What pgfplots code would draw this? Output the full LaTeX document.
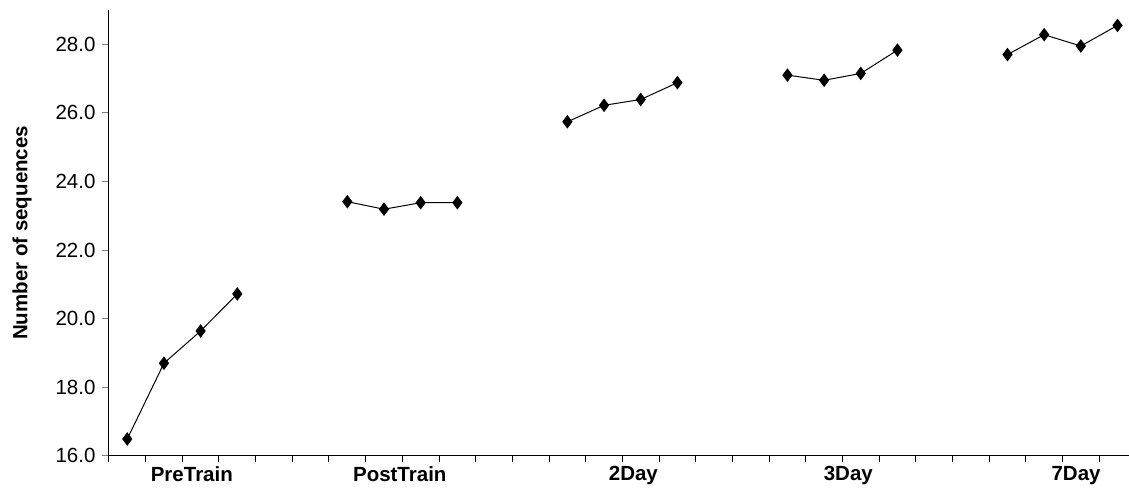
\documentclass[border=0pt]{standalone}
\usepackage{fontspec}
\setmainfont{Liberation Sans}
\usepackage{pgfplots}
\pgfplotsset{compat=1.18}
\pgfplotsset{ser/.style={black, line width=1pt, mark=diamond*, mark size=6pt, mark options={solid, fill=black}}}
\begin{document}
\begin{tikzpicture}
\begin{axis}[
  name=ax,
  scale only axis,
  width=1020pt, height=446pt,
  xmin=-0.5, xmax=27.3,
  ymin=16, ymax=29,
  axis lines=left,
  axis line style={-, line width=1pt},
  clip=false,
  ytick={16,18,...,28},
  yticklabel style={font=\fontsize{20.5}{24}\selectfont, xshift=-3pt},
  /pgf/number format/.cd, fixed, fixed zerofill, precision=1, assume math mode=true,
  /pgfplots/.cd,
  xtick={1.76,7.43,13.8,19.66,25.87},
  xticklabels={PreTrain,PostTrain,2Day,3Day,7Day},
  xticklabel style={font=\bfseries\fontsize{20.5}{24}\selectfont},
  minor xtick={-0.5,0.5,...,26.5},
  xtick style={draw=none},
  minor x tick style={draw=black, line width=1pt},
  ytick style={line width=1pt},
  tick align=outside,
  major tick length=7pt,
  minor tick length=6pt,
  every axis y label/.style={at={(axis description cs:-0.0853,0.5)}, rotate=90, anchor=center},
  ylabel={\bfseries\fontsize{20.5}{24}\selectfont Number of sequences},
]
\addplot[ser] coordinates {(0,16.49) (1,18.70) (2,19.64) (3,20.72)};
\addplot[ser] coordinates {(6,23.41) (7,23.19) (8,23.38) (9,23.38)};
\addplot[ser] coordinates {(12,25.74) (13,26.22) (14,26.39) (15,26.88)};
\addplot[ser] coordinates {(18,27.10) (19,26.95) (20,27.15) (21,27.83)};
\addplot[ser] coordinates {(24,27.70) (25,28.28) (26,27.95) (27,28.55)};
\end{axis}
\useasboundingbox ([xshift=-109pt,yshift=-34pt]ax.south west) rectangle ([yshift=10pt]ax.north east);
\end{tikzpicture}
\end{document}
